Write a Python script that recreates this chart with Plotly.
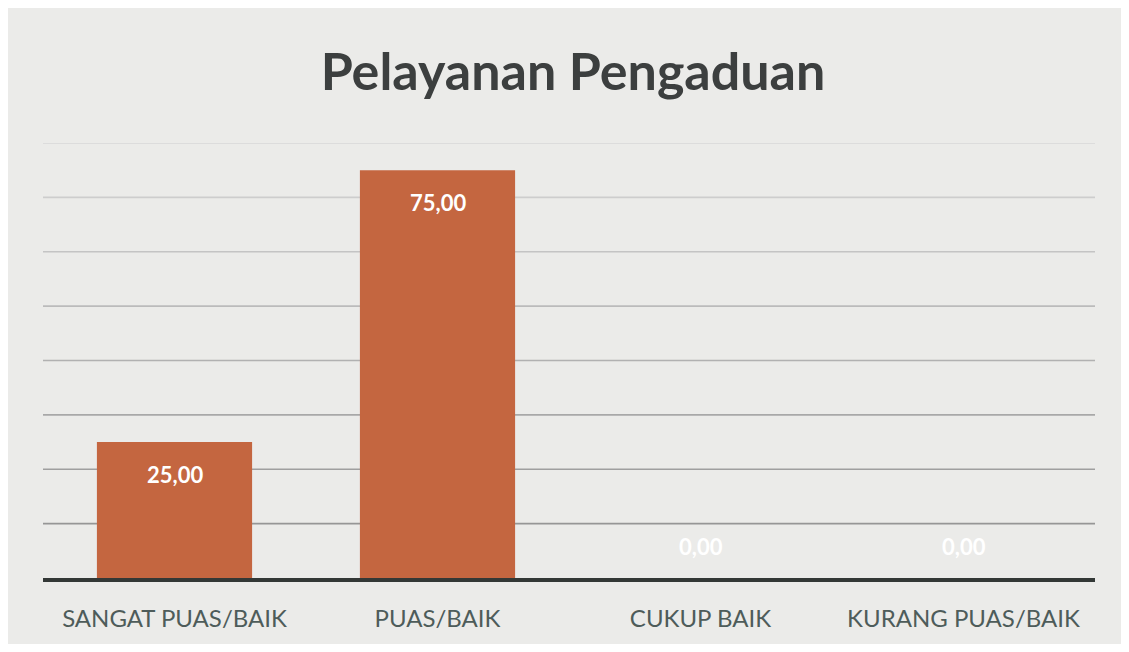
import plotly.graph_objects as go

categories = ["SANGAT PUAS/BAIK", "PUAS/BAIK", "CUKUP BAIK", "KURANG PUAS/BAIK"]
values = [25.00, 75.00, 0.00, 0.00]
grid_values = [10, 20, 30, 40, 50, 60, 70, 80]
title_text = "Pelayanan Pengaduan"

bar_color = "#c46640"
bg = "#ebebe9"

# the page adds an 8 px body margin, so the figure is sized to fit the window
W, H = 1113, 636

fig = go.Figure()
fig.add_trace(go.Bar(
    x=categories, y=values,
    marker=dict(color=bar_color, line=dict(width=0)),
    hoverinfo="skip",
))

# gridlines, slightly darker toward the bottom as in the photo
n = len(grid_values)
for i, g in enumerate(grid_values):
    t = i / (n - 1)
    c = int(150 + t * 65)
    fig.add_shape(type="line", xref="paper", yref="y", x0=0, x1=1, y0=g, y1=g,
                  line=dict(color=f"rgb({c},{c},{c})", width=1.6), layer="below")

for cat, v in zip(categories, values):
    fig.add_annotation(x=cat, y=v, yshift=-32 if v > 0 else 32, showarrow=False,
                       text=f"{v:.2f}".replace(".", ","),
                       font=dict(family="Lato", size=22, color="white", weight="bold"))

fig.update_layout(
    width=W, height=H,
    paper_bgcolor=bg, plot_bgcolor=bg,
    margin=dict(l=35, r=26, t=135, b=62),
    bargap=0.41,
    showlegend=False,
    title=dict(text=f"<b>{title_text}</b>", x=565 / W, xref="container", xanchor="center",
               y=1 - 64 / H, yref="container", yanchor="middle",
               font=dict(family="Lato", size=52, color="#3c3f3f")),
    xaxis=dict(showgrid=False, showline=True, linecolor="#333836", linewidth=4,
               ticks="outside", ticklen=16, tickcolor="rgba(0,0,0,0)",
               tickfont=dict(family="Lato", size=24, color="#4e5c5a")),
    yaxis=dict(range=[0, 80], showgrid=False, zeroline=False, showticklabels=False),
)

fig.write_html("out.html")
